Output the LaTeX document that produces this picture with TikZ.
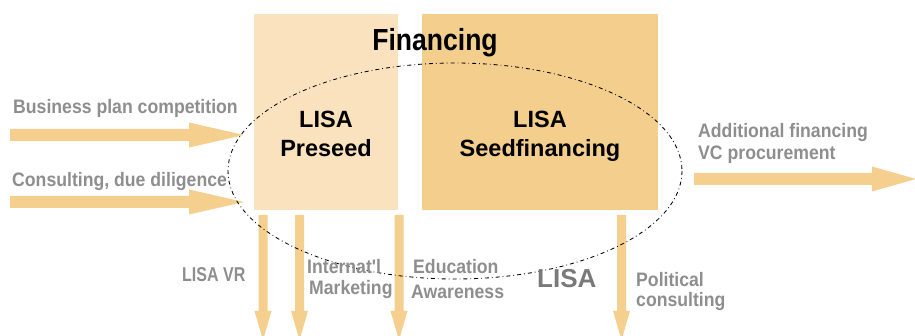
\documentclass[tikz,border=0pt]{standalone}
\usepackage{fontspec}
\setmainfont{Liberation Sans}
\newfontfamily\condf[FakeStretch=0.905]{Liberation Sans}
\newfontfamily\finf[FakeStretch=0.87]{Liberation Sans}
\newfontfamily\narrowf[FakeStretch=0.8]{Liberation Sans}
\usetikzlibrary{calc}
\definecolor{boxlight}{RGB}{249,226,189}
\definecolor{boxdark}{RGB}{243,206,140}
\definecolor{arrowc}{RGB}{244,207,142}
\definecolor{labgray}{RGB}{142,142,142}
\definecolor{lisagray}{RGB}{122,122,122}
\newcommand\rarr[3]{%
 \fill[arrowc] ($(#1)+(0,-6)$) -- ($(#2)+(-#3,-6)$) -- ($(#2)+(-#3,-12.5)$) -- (#2) -- ($(#2)+(-#3,12.5)$) -- ($(#2)+(-#3,6)$) -- ($(#1)+(0,6)$) -- cycle;}
\newcommand\darr[2]{%
 \fill[arrowc] ($(#1)+(-4.5,0)$) -- ($(#2)+(-4.5,-29)$) -- ($(#2)+(-8.5,-29)$) -- (#2) -- ($(#2)+(8.5,-29)$) -- ($(#2)+(4.5,-29)$) -- ($(#1)+(4.5,0)$) -- cycle;}
\tikzset{
  lab/.style={text=labgray, inner sep=0pt, anchor=base west, font=\condf\bfseries\fontsize{19.5}{21}\selectfont},
  boxtext/.style={text=black, inner sep=0pt, anchor=base, font=\bfseries\fontsize{23.5}{28}\selectfont},
  ring/.style={draw=black, line width=0.85pt, dash pattern=on 4pt off 3pt on 0.8pt off 3pt}
}
\begin{document}
\begin{tikzpicture}[x=1pt,y=-1pt]
\useasboundingbox (0,0) rectangle (915,336);
\clip (0,0) rectangle (915,336);
% boxes
\fill[boxlight] (254,14) rectangle (398,210);
\fill[boxdark] (422,14) rectangle (658,210);
\node[anchor=base, inner sep=0pt, font=\finf\bfseries\fontsize{30.5}{34}\selectfont] (fin) at (435,51) {Financing};
\node[boxtext] (lisa1) at (326,128) {LISA};
\node[boxtext] (pre) at (326,157) {Preseed};
\node[boxtext] (lisa2) at (540,128) {LISA};
\node[boxtext] (seed) at (540,157) {Seedfinancing};
% input arrows
\coordinate (a1s) at (10,135); \coordinate (a1e) at (244,135);
\coordinate (a2s) at (10,202); \coordinate (a2e) at (244,202);
\rarr{a1s}{a1e}{55}
\rarr{a2s}{a2e}{55}
\node[lab] (bpc) at (13,114) {Business plan competition};
\node[lab] (cdd) at (12,187) {Consulting, due diligence};
% output arrow
\coordinate (a3s) at (694,179); \coordinate (a3e) at (916,179);
\rarr{a3s}{a3e}{44}
\node[lab] (add) at (698,138) {Additional financing};
\node[lab] (vc) at (698,160) {VC procurement};
% down arrows
\coordinate (d1s) at (263,215); \coordinate (d1e) at (263,340);
\coordinate (d2s) at (299.5,215); \coordinate (d2e) at (299.5,340);
\coordinate (d3s) at (399,215); \coordinate (d3e) at (399,340);
\coordinate (d4s) at (621.5,215); \coordinate (d4e) at (621.5,340);
\darr{d1s}{d1e}
\darr{d2s}{d2e}
\darr{d3s}{d3e}
\darr{d4s}{d4e}
% ellipse
\draw[ring] (455,171) ellipse [x radius=227, y radius=108];
% lower labels
\node[inner sep=0pt, anchor=base west, text=labgray, font=\narrowf\bfseries\fontsize{20}{22}\selectfont] (vr) at (182,282) {LISA VR};
\node[lab] (int) at (307,274) {Internat'l};
\node[lab] (mkt) at (309,295) {Marketing};
\node[lab] (edu) at (413,274) {Education};
\node[lab] (awa) at (411,299) {Awareness};
\node[inner sep=0pt, anchor=base west, text=lisagray, font=\bfseries\fontsize{26}{30}\selectfont] (lisa3) at (537,288) {LISA};
\node[lab] (pol) at (636,287) {Political};
\node[lab] (con) at (636,307) {consulting};
\end{tikzpicture}
\end{document}
